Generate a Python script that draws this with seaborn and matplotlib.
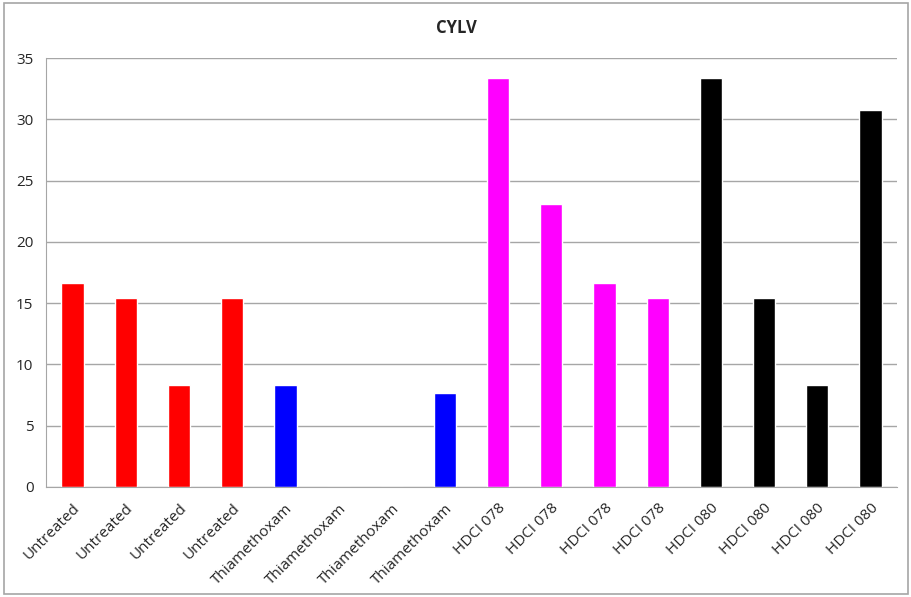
import pandas as pd
import numpy as np
import matplotlib
matplotlib.use("Agg")
import matplotlib.pyplot as plt
import seaborn as sns
from matplotlib.patches import Rectangle

# data
labels = ["Untreated"] * 4 + ["Thiamethoxam"] * 4 + ["HDCI 078"] * 4 + ["HDCI 080"] * 4
values = [16.67, 15.38, 8.33, 15.38,
          8.33, 0, 0, 7.69,
          33.33, 23.08, 16.67, 15.38,
          33.33, 15.38, 8.33, 30.77]
group_colors = {"Untreated": "#FF0000", "Thiamethoxam": "#0000FF",
                "HDCI 078": "#FF00FF", "HDCI 080": "#000000"}

df = pd.DataFrame({"pos": range(len(values)), "label": labels, "value": values})

sns.set_style("white")
plt.rcParams['font.family'] = ['Open Sans', 'DejaVu Sans']

fig = plt.figure(figsize=(9.12, 5.97), dpi=100)
ax = fig.add_axes([0.0504, 0.1843, 0.9332, 0.7185])

sns.barplot(data=df, x="pos", y="value", hue="label", palette=group_colors,
            dodge=False, width=0.42, legend=False, ax=ax, saturation=1)

ax.set_ylim(0, 35)
ax.set_xlim(-0.5, len(values) - 0.5)
ax.set_yticks(range(0, 36, 5))
ax.yaxis.grid(True, color="#A6A6A6", linewidth=1)
ax.set_axisbelow(True)
ax.set_xlabel("")
ax.set_ylabel("")

ax.set_xticks(range(len(values)))
ax.set_xticklabels(labels, rotation=45, ha="right", rotation_mode="anchor", fontsize=11)
ax.set_xticks(np.arange(-0.5, len(values), 1), minor=True)
ax.tick_params(axis="x", which="major", length=0, pad=10)
ax.tick_params(axis="x", which="minor", length=5, color="#A6A6A6", direction="out")
ax.tick_params(axis="y", length=5, color="#A6A6A6", direction="out", labelsize=11, pad=4)

for side in ["top", "right"]:
    ax.spines[side].set_visible(False)
for side in ["left", "bottom"]:
    ax.spines[side].set_color("#A6A6A6")

fig.text(0.5, 0.953, "CYLV", ha="center", va="center", fontsize=12, fontweight="bold")

fig.patches.append(Rectangle((0.004, 0.005), 0.992, 0.99, transform=fig.transFigure,
                             fill=False, edgecolor="#A6A6A6", linewidth=1.2))

fig.savefig("out.png", dpi=100)
